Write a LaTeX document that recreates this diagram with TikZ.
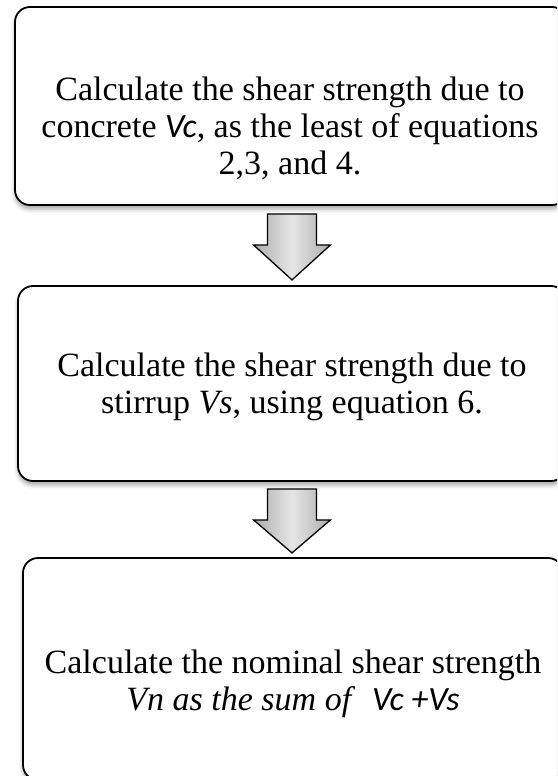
\documentclass[tikz,border=0pt]{standalone}
\usepackage{fontspec}
\setmainfont{Liberation Serif}
\newfontfamily\calibfont{Carlito}
\usetikzlibrary{calc,positioning,shadows.blur}

\tikzset{
  stepbox/.style={draw,line width=1.8pt,rounded corners=15pt,fill=white,
    blur shadow={shadow xshift=0pt,shadow yshift=-4pt,shadow blur radius=4pt,shadow opacity=35}},
  steptext/.style={align=center,inner sep=0pt,font=\fontsize{34}{37}\selectfont},
  downarrow/.style={draw,line width=1.3pt,line join=miter,
    left color=gray!65,right color=gray!65,middle color=gray!20}
}

\begin{document}
\begin{tikzpicture}[x=1pt,y=-1pt]
  \useasboundingbox (0,0) rectangle (557,776);
  \clip (0,0) rectangle (557,776);

  % the three steps
  \node[stepbox,minimum width=552pt,minimum height=198pt] (b1) at (291,106) {};
  \node[stepbox,minimum width=548pt,minimum height=195pt] (b2) at (292,383.5) {};
  \node[stepbox,minimum width=540pt,minimum height=222pt] (b3) at (293,669) {};

  \node[steptext] (t1) at ($(b1.center)+(-1,22)$)
       {Calculate the shear strength due to\\
        concrete {\calibfont\itshape Vc}, as the least of equations\\
        2,3, and 4.};
  \node[steptext] (t2) at ($(b2.center)+(0,3)$)
       {Calculate the shear strength due to\\
        stirrup \textit{Vs}, using equation 6.};
  \node[steptext] (t3) at ($(b3.center)+(0,15)$)
       {Calculate the nominal shear strength\\
        \textit{Vn as the sum of}\ \ {\calibfont\itshape Vc +Vs}};

  % block arrows between the steps
  \coordinate (a1) at ($(b1.south)+(1,8)$);
  \coordinate (a2) at ($(b2.south)+(0,7)$);
  \draw[downarrow] (a1) ++(-24.5,0) -- ++(49,0) -- ++(0,31) -- ++(14,0)
       -- ++(-38.5,35) -- ++(-38.5,-35) -- ++(14,0) -- cycle;
  \draw[downarrow] (a2) ++(-24.5,0) -- ++(49,0) -- ++(0,31) -- ++(14,0)
       -- ++(-38.5,33) -- ++(-38.5,-33) -- ++(14,0) -- cycle;
\end{tikzpicture}
\end{document}
